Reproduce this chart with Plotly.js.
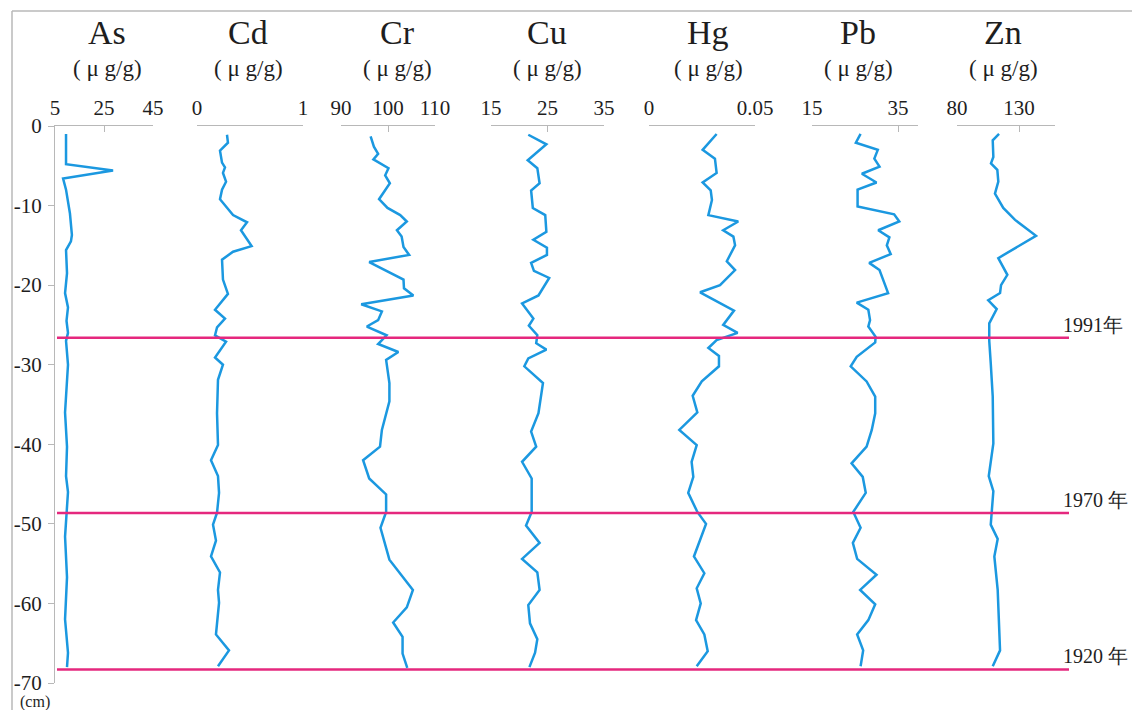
<!DOCTYPE html>
<html><head><meta charset="utf-8">
<script src="https://cdn.plot.ly/plotly-3.0.1.min.js"></script>
<style>html,body{margin:0;padding:0;background:#fff;}#chart{width:1132px;height:710px;}</style>
</head><body><div id="chart"></div>
<script>
// ---------- data ----------
const elements = ["As", "Cd", "Cr", "Cu", "Hg", "Pb", "Zn"];
const unitLabel = "( \u03bc g/g)";

const asDepth = [1.0,4.8,5.6,6.6,8.0,9.3,11.0,13.7,14.5,15.6,18.5,21.0,22.8,24.5,26.0,27.0,30.0,36.0,40.3,44.0,46.0,51.6,56.7,62.0,66.2,68.0];
const asValue = [9.5,9.5,28.7,8.3,9.5,10.3,11.1,11.9,11.5,9.5,9.9,9.1,10.3,9.7,10.3,9.5,10.3,9.1,9.9,9.5,10.3,9.1,9.9,9.1,10.3,9.9];

const cdDepth = [1.1,2.1,3.1,4.6,5.2,5.9,7.0,8.0,9.2,11.2,12.1,13.1,15.1,15.8,16.8,19.3,21.1,23.1,24.2,25.3,26.3,27.1,29.1,30.0,31.9,36.1,40.1,42.0,44.0,46.1,48.6,50.1,52.1,54.1,56.1,58.3,59.9,63.9,65.9,67.9];
const cdValue = [0.283,0.292,0.217,0.236,0.264,0.245,0.274,0.236,0.217,0.340,0.472,0.415,0.515,0.340,0.236,0.245,0.292,0.170,0.264,0.189,0.170,0.274,0.170,0.245,0.198,0.189,0.198,0.132,0.198,0.208,0.189,0.151,0.179,0.132,0.217,0.198,0.208,0.179,0.302,0.198];

const crDepth = [1.3,2.6,3.5,4.2,5.3,6.2,7.2,9.2,10.3,11.2,12.0,13.1,13.9,15.2,16.2,17.1,19.3,20.4,21.3,22.4,23.3,24.4,25.2,26.3,27.4,28.4,29.4,32.3,34.6,38.2,40.3,42.0,44.3,46.3,48.5,50.5,54.5,56.4,58.3,60.5,62.4,64.2,66.3,68.1];
const crValue = [96.3,97.0,97.9,96.9,100.1,99.4,100.4,98.1,99.9,102.6,104.0,101.9,102.9,103.3,104.5,96.0,103.3,103.4,105.4,94.3,98.7,97.9,95.5,99.7,97.9,102.2,99.6,100.3,100.3,98.7,98.3,94.7,96.0,99.6,99.6,98.4,100.3,102.9,105.3,104.0,101.1,103.1,103.1,104.1];

const cuDepth = [1.1,2.3,4.3,5.3,7.2,8.1,10.3,11.2,13.3,14.3,15.3,16.2,17.2,18.2,19.1,21.3,22.3,24.2,25.1,26.3,27.3,28.1,29.2,30.2,32.3,36.1,38.4,40.3,42.2,44.3,48.5,50.2,52.4,54.4,56.1,58.3,60.2,62.5,64.5,66.2,68.0];
const cuValue = [21.6,24.8,21.5,23.2,23.6,22.1,22.4,24.6,24.8,22.5,24.9,24.9,22.1,22.6,25.3,23.4,20.5,22.5,21.7,23.2,23.0,24.8,21.6,20.9,24.2,23.4,22.1,23.0,20.5,22.2,22.2,21.2,23.6,20.5,23.2,23.6,21.6,21.9,23.2,22.8,21.8];

const hgDepth = [1.0,3.0,4.1,5.9,7.1,8.1,9.3,11.2,12.0,13.1,13.9,15.0,17.0,18.1,20.0,20.9,23.2,25.0,26.0,26.9,27.9,28.9,30.2,32.1,33.9,36.0,38.2,40.1,42.2,44.1,46.1,48.5,50.0,54.1,56.2,58.1,60.0,62.1,63.9,66.0,67.9];
const hgValue = [0.0319,0.0253,0.0311,0.0319,0.0253,0.0291,0.0297,0.0280,0.0421,0.0350,0.0398,0.0406,0.0367,0.0406,0.0335,0.0241,0.0401,0.0350,0.0418,0.0319,0.0280,0.0330,0.0330,0.0249,0.0206,0.0228,0.0143,0.0225,0.0201,0.0209,0.0185,0.0228,0.0269,0.0212,0.0261,0.0225,0.0244,0.0222,0.0261,0.0277,0.0225];

const pbDepth = [1.0,2.1,3.0,4.1,5.1,6.0,7.1,8.0,10.1,11.1,12.0,13.1,14.0,15.0,16.1,17.2,18.1,19.3,21.0,22.2,23.1,24.4,25.2,26.5,27.2,29.0,30.2,32.1,34.0,36.1,38.2,40.3,42.4,44.1,46.1,48.5,50.5,52.4,54.4,56.4,58.3,60.1,62.1,63.9,65.9,67.9];
const pbValue = [26.3,25.2,30.3,29.5,30.7,26.6,30.0,25.6,25.6,34.1,35.3,30.4,33.0,32.4,33.3,28.3,30.7,31.6,32.7,25.4,28.1,28.5,28.1,29.8,29.7,25.4,24.0,27.7,29.7,29.7,28.9,27.7,24.2,26.8,27.5,24.6,26.3,24.5,25.5,30.0,26.2,29.7,28.1,25.5,26.9,26.3];

const znDepth = [1.0,1.8,3.9,4.7,5.5,7.0,8.5,10.3,11.8,13.8,16.6,18.7,20.0,21.0,21.9,23.0,24.8,27.0,29.8,34.0,39.9,44.0,45.9,50.1,51.9,54.1,58.3,63.9,65.9,67.9];
const znValue = [113.9,108.8,109.3,107.4,112.5,113.3,110.6,117.3,126.8,143.7,113.3,120.6,115.5,114.7,105.2,112.0,106.0,106.0,107.2,108.8,109.3,105.6,109.3,107.2,112.8,110.1,112.8,114.1,114.7,108.8];

// axis ticks
const asTicks = [5, 25, 45],      asTickText = ["5", "25", "45"];
const cdTicks = [0, 1],           cdTickText = ["0", "1"];
const crTicks = [90, 100, 110],   crTickText = ["90", "100", "110"];
const cuTicks = [15, 25, 35],     cuTickText = ["15", "25", "35"];
const hgTicks = [0, 0.05],        hgTickText = ["0", "0.05"];
const pbTicks = [15, 35],         pbTickText = ["15", "35"];
const znTicks = [80, 130],        znTickText = ["80", "130"];
const depthTicks = [0, -10, -20, -30, -40, -50, -60, -70];
const depthTickText = ["0", "-10", "-20", "-30", "-40", "-50", "-60", "-70"];

const yearDepth = [26.6, 48.65, 68.3];
const yearLabel = ["1991年", "1970 年", "1920 年"];

// ---------- layout ----------
const FW = 1132, FH = 710;
const L = 54, T = 126, R = 1068, B = 683;
const W = R - L, H = B - T;
const px = x => (x - L) / W;
const py = y => (B - y) / H;

const serif = "'Liberation Serif', 'Times New Roman', 'DejaVu Serif', serif";
const blue = "#1b98e0";
const magenta = "#e5287e";
const gray = "#b8b8b8";
const ink = "#1e1e1e";

const series = [
  {d: asDepth, v: asValue, range: [5, 45],    ticks: asTicks, text: asTickText, dom: [55, 153],  tx: 107},
  {d: cdDepth, v: cdValue, range: [0, 1],     ticks: cdTicks, text: cdTickText, dom: [197, 303], tx: 248},
  {d: crDepth, v: crValue, range: [90, 110],  ticks: crTicks, text: crTickText, dom: [341, 435], tx: 397},
  {d: cuDepth, v: cuValue, range: [15, 35],   ticks: cuTicks, text: cuTickText, dom: [491, 604], tx: 547},
  {d: hgDepth, v: hgValue, range: [0, 0.05],  ticks: hgTicks, text: hgTickText, dom: [649, 755], tx: 708},
  {d: pbDepth, v: pbValue, range: [15, 39.65],ticks: pbTicks, text: pbTickText, dom: [812, 918], tx: 858},
  {d: znDepth, v: znValue, range: [80, 159],  ticks: znTicks, text: znTickText, dom: [957, 1055],tx: 1003}
];

const traces = [];
const layout = {
  width: FW, height: FH,
  margin: {l: L, r: FW - R, t: T, b: FH - B, pad: 0},
  paper_bgcolor: "#fff", plot_bgcolor: "#fff",
  showlegend: false,
  font: {family: serif, color: ink},
  yaxis: {
    range: [-70, 0], tickvals: depthTicks, ticktext: depthTickText,
    ticks: "outside", ticklen: 6, tickcolor: gray, tickwidth: 1,
    showline: true, linecolor: gray, linewidth: 1,
    showgrid: false, zeroline: false,
    tickfont: {family: serif, size: 21, color: ink}, ticklabelstandoff: 2,
    fixedrange: true
  },
  shapes: [], annotations: []
};

series.forEach((s, i) => {
  const ax = i === 0 ? "x" : "x" + (i + 1);
  const key = i === 0 ? "xaxis" : "xaxis" + (i + 1);
  traces.push({
    x: s.v, y: s.d.map(d => -d), xaxis: ax, yaxis: "y",
    mode: "lines", line: {color: blue, width: 2.5}, hoverinfo: "x+y"
  });
  layout[key] = {
    domain: [px(s.dom[0]), px(s.dom[1])], anchor: "y", side: "top",
    range: s.range, tickvals: s.ticks, ticktext: s.text,
    ticks: "inside", ticklen: 6, tickcolor: gray, tickwidth: 1,
    showline: true, linecolor: gray, linewidth: 1,
    showgrid: false, zeroline: false,
    tickfont: {family: serif, size: 21, color: ink}, ticklabelstandoff: 2,
    fixedrange: true
  };
  layout.annotations.push({
    text: elements[i], xref: "paper", yref: "paper", x: px(s.tx), y: py(33),
    xanchor: "center", yanchor: "middle", showarrow: false,
    font: {family: serif, size: 34, color: ink}
  });
  layout.annotations.push({
    text: unitLabel, xref: "paper", yref: "paper", x: px(s.tx), y: py(68),
    xanchor: "center", yanchor: "middle", showarrow: false,
    font: {family: serif, size: 23, color: ink}
  });
});

yearDepth.forEach((d, i) => {
  layout.shapes.push({
    type: "line", xref: "paper", yref: "y", x0: px(57), x1: px(1069), y0: -d, y1: -d,
    line: {color: magenta, width: 2.5}
  });
  layout.annotations.push({
    text: yearLabel[i], xref: "paper", yref: "y", x: px(1061), y: -d,
    xanchor: "left", yanchor: "bottom", yshift: 0, showarrow: false,
    font: {family: serif, size: 20, color: ink}
  });
});

layout.annotations.push({
  text: "(cm)", xref: "paper", yref: "paper", x: px(35), y: py(702),
  xanchor: "center", yanchor: "middle", showarrow: false,
  font: {family: serif, size: 16, color: ink}
});

// thin frame top and left
layout.shapes.push({type: "line", xref: "paper", yref: "paper", x0: px(12), x1: px(1132), y0: py(11), y1: py(11), line: {color: gray, width: 1.5}});
layout.shapes.push({type: "line", xref: "paper", yref: "paper", x0: px(12), x1: px(12), y0: py(11), y1: py(710), line: {color: gray, width: 1.5}});

Plotly.newPlot("chart", traces, layout, {displayModeBar: false, staticPlot: true});
</script></body></html>
